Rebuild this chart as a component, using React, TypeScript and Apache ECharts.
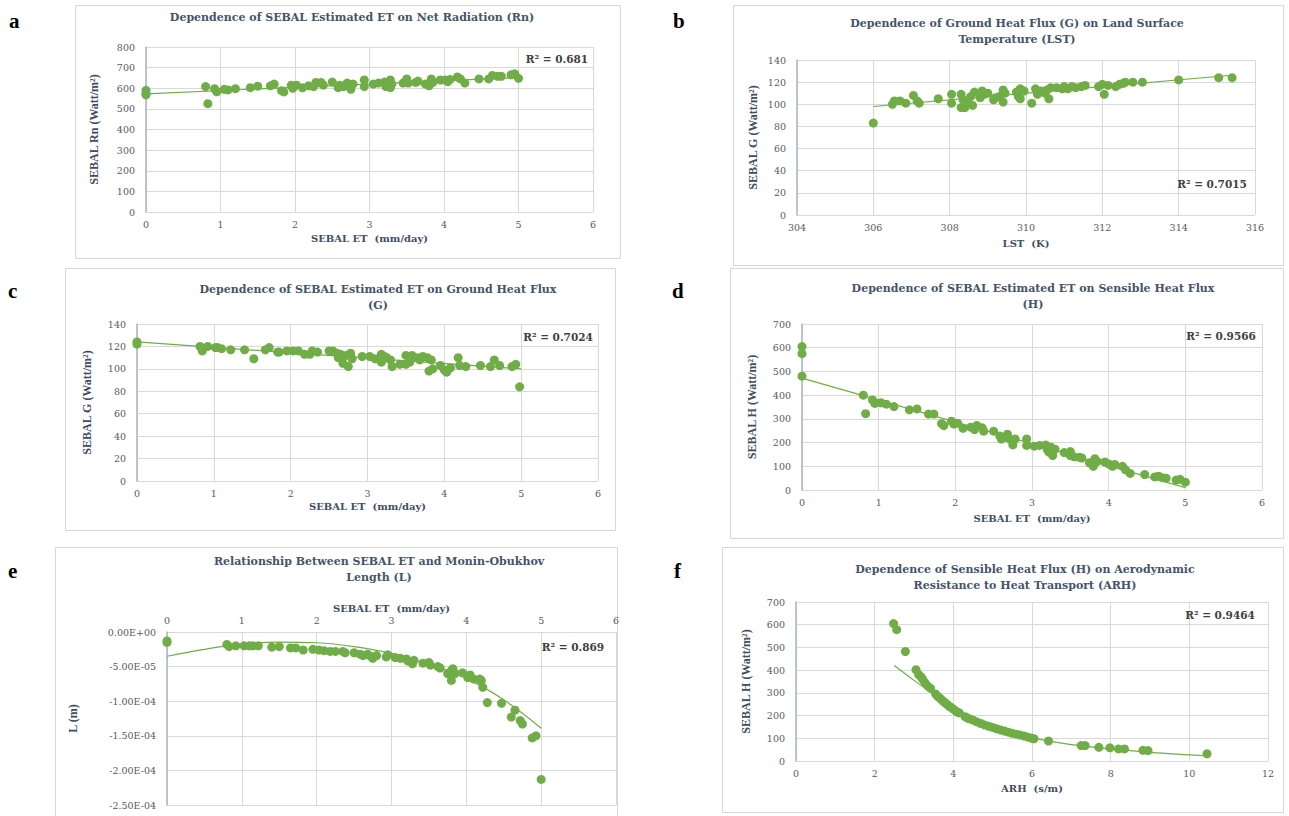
import React, { useEffect, useRef } from "react";
import * as echarts from "echarts";

const GREEN = "#70AD47";
const TICK = "#595959";
const NAMEC = "#3F4D63";
const GRIDC = "#D9D9D9";
const SERIF = "'Liberation Serif', 'Times New Roman', serif";
const WIDE = "'DejaVu Serif', serif";

// ---------- data ----------
const aPoints = [
  [0, 590], [0, 575], [0, 568], [0.8, 608], [0.83, 525], [0.92, 598], [0.95, 583],
  [1.05, 595], [1.1, 592], [1.2, 598], [1.4, 603], [1.5, 610], [1.67, 612], [1.72, 620],
  [1.82, 588], [1.85, 582], [1.95, 615], [1.97, 600], [2.02, 615], [2.1, 602], [2.18, 612],
  [2.25, 608], [2.28, 628], [2.35, 628], [2.38, 615], [2.5, 630], [2.58, 603], [2.6, 615],
  [2.65, 608], [2.7, 625], [2.72, 612], [2.75, 595], [2.78, 620], [2.93, 640], [2.93, 608],
  [3.05, 620], [3.12, 625], [3.2, 630], [3.22, 608], [3.28, 640], [3.28, 603], [3.3, 620],
  [3.45, 625], [3.5, 645], [3.52, 625], [3.62, 628], [3.65, 635], [3.75, 620], [3.8, 612],
  [3.83, 645], [3.85, 628], [3.95, 640], [4.02, 640], [4.05, 632], [4.08, 642], [4.18, 655],
  [4.22, 645], [4.28, 625], [4.47, 645], [4.6, 645], [4.65, 662], [4.72, 658], [4.77, 658],
  [4.9, 665], [4.95, 670], [5.0, 648],
];
const aTrend = [[0, 573], [5, 652]];

const bPoints = [
  [306.0, 83], [306.5, 100], [306.55, 103], [306.7, 103], [306.85, 101], [307.05, 108],
  [307.15, 103], [307.2, 101], [307.7, 105], [308.05, 109], [308.05, 101], [308.3, 109],
  [308.3, 97], [308.4, 97], [308.45, 102], [308.35, 104], [308.6, 99], [308.55, 107],
  [308.65, 111], [308.8, 106], [308.85, 112], [308.9, 109], [309.0, 110], [309.15, 104],
  [309.2, 106], [309.3, 107], [309.4, 113], [309.45, 110], [309.4, 102], [309.75, 111],
  [309.8, 107], [309.85, 105], [309.85, 114], [309.95, 112], [310.15, 101], [310.25, 114],
  [310.3, 109], [310.4, 112], [310.5, 110], [310.55, 113], [310.6, 105], [310.65, 115],
  [310.8, 115], [310.95, 114], [311.0, 116], [311.1, 114], [311.2, 116], [311.3, 115],
  [311.45, 116], [311.55, 117], [311.9, 116], [312.0, 118], [312.05, 109], [312.15, 117],
  [312.35, 116], [312.45, 118], [312.55, 119], [312.6, 120], [312.8, 120], [313.05, 120],
  [314.0, 122], [315.05, 124], [315.4, 124],
];
const bTrend = [[306, 98], [315.3, 126]];

const cPoints = [
  [0, 124], [0, 122], [0.82, 120], [0.85, 116], [0.92, 120], [1.02, 119], [1.05, 119],
  [1.1, 118], [1.22, 117], [1.4, 117], [1.52, 109], [1.67, 117], [1.72, 119], [1.83, 115],
  [1.85, 115], [1.95, 116], [2.03, 116], [2.1, 116], [2.18, 113], [2.25, 113], [2.28, 116],
  [2.35, 115], [2.5, 116], [2.55, 116], [2.6, 114], [2.62, 110], [2.65, 113], [2.68, 105],
  [2.72, 112], [2.75, 102], [2.78, 114], [2.8, 109], [2.93, 111], [3.03, 111], [3.1, 109],
  [3.18, 113], [3.18, 106], [3.22, 111], [3.25, 110], [3.3, 108], [3.32, 102], [3.42, 104],
  [3.5, 104], [3.5, 112], [3.55, 106], [3.58, 112], [3.65, 110], [3.68, 108], [3.72, 111],
  [3.78, 110], [3.8, 98], [3.83, 108], [3.85, 100], [3.95, 103], [4.0, 99], [4.03, 97],
  [4.08, 101], [4.18, 110], [4.2, 103], [4.28, 102], [4.47, 103], [4.6, 102], [4.65, 108],
  [4.72, 103], [4.88, 102], [4.93, 104], [4.98, 84],
];
const cTrend = [[0, 124], [5, 100]];

const dPoints = [
  [0, 605], [0, 575], [0, 480], [0.8, 400], [0.83, 322], [0.92, 380], [0.95, 365],
  [1.03, 368], [1.1, 362], [1.2, 352], [1.4, 338], [1.5, 342], [1.65, 320], [1.72, 320],
  [1.82, 280], [1.85, 272], [1.95, 290], [1.98, 278], [2.03, 282], [2.1, 260], [2.2, 265],
  [2.25, 255], [2.28, 272], [2.35, 262], [2.37, 248], [2.5, 248], [2.58, 228], [2.6, 215],
  [2.65, 222], [2.68, 235], [2.72, 212], [2.75, 190], [2.78, 215], [2.93, 215], [2.93, 188],
  [3.03, 185], [3.1, 188], [3.18, 190], [3.2, 170], [3.22, 160], [3.25, 180], [3.27, 145],
  [3.3, 172], [3.42, 158], [3.5, 162], [3.5, 145], [3.55, 140], [3.62, 138], [3.65, 135],
  [3.75, 115], [3.78, 110], [3.82, 132], [3.8, 100], [3.85, 120], [3.95, 118], [4.0, 110],
  [4.05, 100], [4.08, 108], [4.18, 100], [4.22, 85], [4.28, 70], [4.47, 65], [4.6, 55],
  [4.65, 58], [4.7, 52], [4.75, 50], [4.88, 42], [4.93, 45], [5.0, 33],
];
const dTrend = [[0, 472], [5, 10]];

const ePoints = [
  [0, -1.3e-5], [0, -1.5e-5], [0.8, -1.8e-5], [0.83, -2.1e-5], [0.92, -2.0e-5],
  [1.03, -2.0e-5], [1.1, -2.0e-5], [1.15, -2.0e-5], [1.22, -2.0e-5], [1.4, -2.2e-5],
  [1.5, -2.1e-5], [1.65, -2.3e-5], [1.72, -2.3e-5], [1.82, -2.6e-5], [1.95, -2.5e-5],
  [2.03, -2.6e-5], [2.1, -2.7e-5], [2.18, -2.8e-5], [2.25, -2.8e-5], [2.35, -2.8e-5],
  [2.38, -3.0e-5], [2.5, -3.0e-5], [2.58, -3.2e-5], [2.62, -3.4e-5], [2.68, -3.2e-5],
  [2.72, -3.5e-5], [2.75, -3.8e-5], [2.8, -3.4e-5], [2.93, -3.6e-5], [2.95, -3.3e-5],
  [3.05, -3.7e-5], [3.12, -3.8e-5], [3.2, -3.9e-5], [3.22, -4.2e-5], [3.28, -4.6e-5],
  [3.3, -4.1e-5], [3.42, -4.5e-5], [3.5, -4.4e-5], [3.52, -4.8e-5], [3.62, -5.0e-5],
  [3.65, -5.2e-5], [3.75, -6.0e-5], [3.8, -5.6e-5], [3.82, -5.3e-5], [3.8, -7.0e-5],
  [3.85, -6.0e-5], [3.95, -5.9e-5], [4.02, -6.6e-5], [4.05, -6.2e-5], [4.1, -6.8e-5],
  [4.18, -6.8e-5], [4.2, -7.0e-5], [4.22, -8.0e-5], [4.28, -10.2e-5], [4.47, -10.3e-5],
  [4.6, -12.3e-5], [4.65, -11.3e-5], [4.72, -12.8e-5], [4.75, -13.3e-5], [4.88, -15.3e-5],
  [4.93, -15.0e-5], [5.0, -21.3e-5],
];
const eTrend = [
  [0, -3.5e-5], [0.5, -2.5e-5], [1, -1.75e-5], [1.5, -1.45e-5], [2, -1.55e-5],
  [2.5, -2.1e-5], [3, -3.1e-5], [3.5, -4.7e-5], [4, -6.7e-5], [4.5, -9.8e-5], [5, -13.9e-5],
];

const fPoints = [
  [2.48, 605], [2.56, 578], [2.78, 482], [3.05, 402], [3.12, 380], [3.18, 370], [3.22, 360],
  [3.28, 345], [3.35, 330], [3.42, 320], [3.55, 295], [3.6, 285], [3.65, 278], [3.7, 270],
  [3.75, 262], [3.8, 255], [3.85, 248], [3.9, 240], [3.95, 235], [4.0, 228], [4.05, 222],
  [4.1, 215], [4.15, 212], [4.3, 195], [4.35, 190], [4.4, 186], [4.5, 180], [4.6, 172],
  [4.7, 165], [4.8, 158], [4.9, 153], [5.0, 148], [5.1, 142], [5.2, 137], [5.3, 132],
  [5.4, 127], [5.5, 122], [5.6, 118], [5.7, 114], [5.8, 110], [5.9, 105], [6.0, 100],
  [6.05, 98], [6.42, 88], [7.25, 68], [7.35, 68], [7.7, 60], [7.98, 58], [8.2, 53],
  [8.35, 53], [8.82, 47], [8.95, 46], [10.45, 32],
];
const fTrend = [
  [2.5, 420], [3, 355], [3.5, 295], [4, 235], [4.5, 190], [5, 155], [5.5, 125], [6, 102],
  [7, 72], [8, 53], [9, 38], [10, 27], [10.4, 23],
];

const r2Labels = ["R² = 0.681", "R² = 0.7015", "R² = 0.7024", "R² = 0.9566", "R² = 0.869", "R² = 0.9464"];
const panelLetters = ["a", "b", "c", "d", "e", "f"];
const titles = [
  ["Dependence of SEBAL Estimated ET on Net Radiation (Rn)"],
  ["Dependence of Ground Heat Flux (G) on Land Surface", "Temperature (LST)"],
  ["Dependence of SEBAL Estimated ET on Ground Heat Flux", "(G)"],
  ["Dependence of SEBAL Estimated ET on Sensible Heat Flux", "(H)"],
  ["Relationship Between SEBAL ET and Monin-Obukhov", "Length (L)"],
  ["Dependence of Sensible Heat Flux (H) on Aerodynamic", "Resistance to Heat Transport (ARH)"],
];
const xNames = ["SEBAL ET  (mm/day)", "LST  (K)", "SEBAL ET  (mm/day)", "SEBAL ET  (mm/day)", "SEBAL ET  (mm/day)", "ARH  (s/m)"];
const yNames = ["SEBAL Rn (Watt/m²)", "SEBAL G (Watt/m²)", "SEBAL G (Watt/m²)", "SEBAL H (Watt/m²)", "L (m)", "SEBAL H (Watt/m²)"];

// ---------- layout ----------
const layout = [
  { grid: [146, 47, 447, 165], box: [75, 5, 545, 253], title: [352, 17], r2: [557, 59], letter: [9, 21], xGap: 21, yGap: 46,
    x: [0, 6, 1], y: [0, 800, 100], pts: aPoints, trend: aTrend, smooth: false },
  { grid: [797, 60, 458, 155], box: [733, 5, 550, 260], title: [1017, 23], r2: [1212, 184], letter: [673, 21], xGap: 23, yGap: 38,
    x: [304, 316, 2], y: [0, 140, 20], pts: bPoints, trend: bTrend, smooth: false },
  { grid: [137, 324, 461, 157], box: [65, 268, 550, 262], title: [378, 289], r2: [558, 337], letter: [8, 291], xGap: 20, yGap: 44,
    x: [0, 6, 1], y: [0, 140, 20], pts: cPoints, trend: cTrend, smooth: false },
  { grid: [802, 324, 460, 166], box: [730, 268, 553, 270], title: [1033, 288], r2: [1221, 336], letter: [672, 291], xGap: 23, yGap: 44,
    x: [0, 6, 1], y: [0, 700, 100], pts: dPoints, trend: dTrend, smooth: false },
  { grid: [167, 632, 449, 173], box: [55, 547, 562, 290], title: [379, 561], r2: [573, 647], letter: [8, 571], xGap: 19, yGap: 88,
    x: [0, 6, 1], y: [-0.00025, 0, 0.00005], pts: ePoints, trend: eTrend, smooth: true },
  { grid: [796, 602, 472, 159], box: [722, 547, 561, 265], title: [1025, 569], r2: [1220, 615], letter: [674, 571], xGap: 22, yGap: 44,
    x: [0, 12, 2], y: [0, 700, 100], pts: fPoints, trend: fTrend, smooth: true },
];

function expFmt(v: number): string {
  if (Math.abs(v) < 1e-12) return "0.00E+00";
  const s = v.toExponential(2);
  const [m, e] = s.split("e");
  const n = parseInt(e, 10);
  return m + "E" + (n < 0 ? "-" : "+") + String(Math.abs(n)).padStart(2, "0");
}

function buildOption() {
  const grid: any[] = [];
  const xAxis: any[] = [];
  const yAxis: any[] = [];
  const series: any[] = [];
  const graphic: any[] = [];

  layout.forEach((p, i) => {
    grid.push({ left: p.grid[0], top: p.grid[1], width: p.grid[2], height: p.grid[3], containLabel: false });
    xAxis.push({
      type: "value", gridIndex: i, min: p.x[0], max: p.x[1], interval: p.x[2],
      position: i === 4 ? "top" : "bottom",
      name: xNames[i], nameLocation: "middle", nameGap: p.xGap,
      nameTextStyle: { fontFamily: WIDE, fontWeight: "bold", fontSize: 10, color: NAMEC },
      axisLine: { show: false },
      axisTick: { show: false },
      axisLabel: { fontFamily: WIDE, fontSize: 9.5, color: TICK, margin: 7 },
      splitLine: { show: true, lineStyle: { color: GRIDC, width: 1 } },
    });
    yAxis.push({
      type: "value", gridIndex: i, min: p.y[0], max: p.y[1], interval: p.y[2],
      name: yNames[i], nameLocation: "middle", nameGap: p.yGap,
      nameTextStyle: { fontFamily: SERIF, fontWeight: "bold", fontSize: 12, color: NAMEC },
      axisLine: { show: true, onZero: false, lineStyle: { color: "#A9B4C6", width: 1.5 } },
      axisTick: { show: false },
      axisLabel: {
        fontFamily: WIDE, fontSize: 9.5, color: TICK, margin: 11,
        formatter: i === 4 ? (v: number) => expFmt(v) : undefined,
      },
      splitLine: { show: true, lineStyle: { color: GRIDC, width: 1 } },
    });
    series.push({
      type: "scatter", xAxisIndex: i, yAxisIndex: i, data: p.pts, symbol: "circle", symbolSize: 9,
      itemStyle: { color: GREEN, opacity: 1 }, z: 3,
    });
    series.push({
      type: "line", xAxisIndex: i, yAxisIndex: i, data: p.trend, showSymbol: false, symbol: "none",
      smooth: p.smooth ? 0.4 : false,
      lineStyle: { color: GREEN, width: 1.2 }, z: 4,
    });

    graphic.push({
      type: "rect", z: 0, silent: true,
      shape: { x: p.box[0] + 0.5, y: p.box[1] + 0.5, width: p.box[2], height: p.box[3] },
      style: { fill: "none", stroke: "#D6D6D6", lineWidth: 1 },
    });
    titles[i].forEach((line, k) => {
      graphic.push({
        type: "text", x: p.title[0], y: p.title[1] + k * 16, z: 10,
        style: {
          text: line, fill: "#44546A", font: `bold 11px ${WIDE}`,
          textAlign: "center", textVerticalAlign: "middle", align: "center", verticalAlign: "middle",
        },
      });
    });
    graphic.push({
      type: "text", x: p.r2[0], y: p.r2[1], z: 10,
      style: {
        text: r2Labels[i], fill: "#404040", font: `bold 10.5px ${WIDE}`,
        textAlign: "center", textVerticalAlign: "middle", align: "center", verticalAlign: "middle",
      },
    });
    graphic.push({
      type: "text", x: p.letter[0], y: p.letter[1], z: 10,
      style: {
        text: panelLetters[i], fill: "#000000", font: `bold 21px ${SERIF}`,
        textAlign: "left", textVerticalAlign: "middle", align: "left", verticalAlign: "middle",
      },
    });
  });

  return {
    animation: false,
    backgroundColor: "#FFFFFF",
    grid, xAxis, yAxis, series, graphic,
  };
}

export default function App() {
  const ref = useRef<HTMLDivElement>(null);
  useEffect(() => {
    if (!ref.current) return;
    const chart = echarts.init(ref.current, undefined, { renderer: "svg" });
    chart.setOption(buildOption() as any);
    return () => chart.dispose();
  }, []);
  return (
    <div
      ref={ref}
      style={{ position: "absolute", left: 0, top: 0, width: 1289, height: 816, background: "#FFFFFF" }}
    />
  );
}
